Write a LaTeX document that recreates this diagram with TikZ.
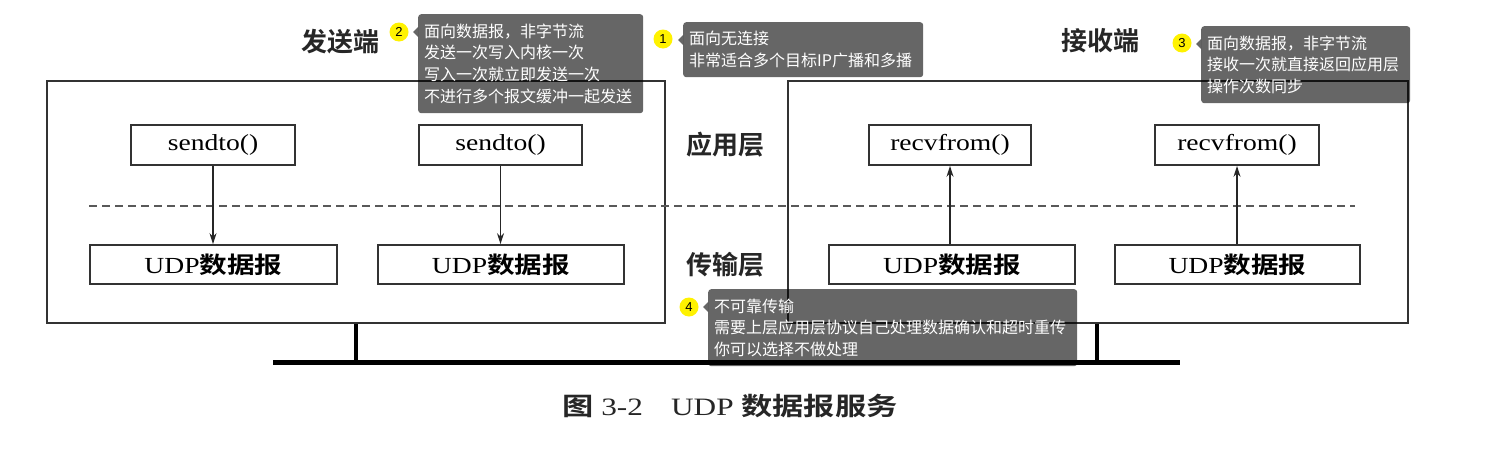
\documentclass[tikz,border=0pt]{standalone}
\usepackage{fontspec}
\usepackage{graphicx}
\usetikzlibrary{arrows.meta}
\setmainfont{Liberation Serif}
\newfontfamily\cjk{Noto Sans CJK SC}
\newfontfamily\cjkbold{Noto Sans CJK SC Bold}
\newfontfamily\sansf{Liberation Sans}
\newcommand\zh[1]{{\cjkbold #1}}
\newcommand\wide[1]{\scalebox{1.2}[1]{#1}}
\begin{document}
\begin{tikzpicture}[x=1pt,y=-1pt,
  frame/.style={draw=black!80, line width=2pt, minimum height=242pt, inner sep=0pt},
  fbox/.style={draw=black!80, line width=1.8pt, inner sep=0pt, font=\fontsize{23}{25}\selectfont},
  arr/.style={-{Stealth[length=11pt,width=7pt]}, line width=1.5pt, draw=black!85},
  lbl/.style={inner sep=0pt, font=\cjkbold\fontsize{26}{30}\selectfont, text=black!85},
  tip/.style={fill=black, fill opacity=0.6, text opacity=1, text=white, rounded corners=3pt,
    align=left, inner xsep=6pt, inner ysep=0pt, anchor=north west,
    font=\cjk\fontsize{16}{21.7}\selectfont},
  ptr/.style={fill=black, fill opacity=0.6},
  badge/.style={circle, fill=yellow, minimum size=19pt, inner sep=0pt, font=\sansf\fontsize{13}{13}\selectfont},
  dashline/.style={draw=black!65, line width=1.7pt, dash pattern=on 8pt off 5pt},
  net/.style={draw=black, line width=5pt},
  stub/.style={draw=black, line width=3.5pt}]
\useasboundingbox (0,0) rectangle (1488,453);
\fill[white] (0,0) rectangle (1488,453);

% big frames
\node[frame, minimum width=618pt] (send) at (356,202) {};
\node[frame, minimum width=620pt] (recv) at (1098,201.5) {};

% labels
\node[lbl] (snd) at (340,42) {发送端};
\node[lbl] (rcv) at (1100,41) {接收端};
\node[lbl] (app) at (725,145) {应用层};
\node[lbl] (trn) at (725,265) {传输层};

% dashed layer separator
\coordinate (dl) at (89,206);
\coordinate (dr) at (1355,206);
\draw[dashline] (dl) -- (dr);

% application layer boxes
\node[fbox, minimum width=164pt, minimum height=40pt] (s1) at (213,145) {\wide{sendto()}};
\node[fbox, minimum width=163pt, minimum height=40pt] (s2) at (500.5,145) {\wide{sendto()}};
\node[fbox, minimum width=162pt, minimum height=40pt] (r1) at (950,145) {\wide{recvfrom()}};
\node[fbox, minimum width=164pt, minimum height=40pt] (r2) at (1237,145) {\wide{recvfrom()}};

% transport layer boxes
\node[fbox, minimum width=247pt, minimum height=39pt] (u1) at (213.5,264.5) {\wide{UDP\zh{数据报}}};
\node[fbox, minimum width=246pt, minimum height=39pt] (u2) at (501,264.5) {\wide{UDP\zh{数据报}}};
\node[fbox, minimum width=246pt, minimum height=39pt] (u3) at (952,264.5) {\wide{UDP\zh{数据报}}};
\node[fbox, minimum width=245pt, minimum height=39pt] (u4) at (1237.5,264.5) {\wide{UDP\zh{数据报}}};

% arrows
\draw[arr] (s1.south) -- (s1.south |- u1.north);
\draw[arr] (s2.south) -- (s2.south |- u2.north);
\draw[arr] (r1.south |- u3.north) -- (r1.south);
\draw[arr] (r2.south |- u4.north) -- (r2.south);

% network
\coordinate (nl) at (273,362);
\coordinate (nr) at (1180,362);
\coordinate (st1) at (356,362);
\coordinate (st2) at (1097,362);
\draw[stub] (st1 |- send.south) -- (st1);
\draw[stub] (st2 |- recv.south) -- (st2);
\draw[net] (nl) -- (nr);

% caption
\node[inner sep=0pt, font=\fontsize{25}{28}\selectfont, text=black!85] (cap) at (730,406)
  {\scalebox{1.25}[1]{\zh{图} 3-2\hspace{0.9em}UDP \zh{数据报服务}}};

% tooltips
\node[tip, text width=213pt, minimum height=99pt] (t2) at (418,14)
  {面向数据报，非字节流\\发送一次写入内核一次\\写入一次就立即发送一次\\不进行多个报文缓冲一起发送};
\fill[ptr] (418,27) -- (413,32) -- (418,37) -- cycle;
\node[badge] (b2) at (399,32) {2};

\node[tip, text width=228pt, minimum height=55pt] (t1) at (683,22)
  {面向无连接\\非常适合多个目标IP广播和多播};
\fill[ptr] (683,35) -- (678,40) -- (683,45) -- cycle;
\node[badge] (b1) at (663,39) {1};

\node[tip, text width=197pt, minimum height=77pt] (t3) at (1201,26)
  {面向数据报，非字节流\\接收一次就直接返回应用层\\操作次数同步};
\fill[ptr] (1201,39) -- (1196,44) -- (1201,49) -- cycle;
\node[badge] (b3) at (1182,43) {3};

\node[tip, text width=357pt, minimum height=77pt] (t4) at (708,289)
  {不可靠传输\\需要上层应用层协议自己处理数据确认和超时重传\\你可以选择不做处理};
\fill[ptr] (708,302) -- (703,307) -- (708,312) -- cycle;
\node[badge] (b4) at (689,307) {4};
\end{tikzpicture}
\end{document}
